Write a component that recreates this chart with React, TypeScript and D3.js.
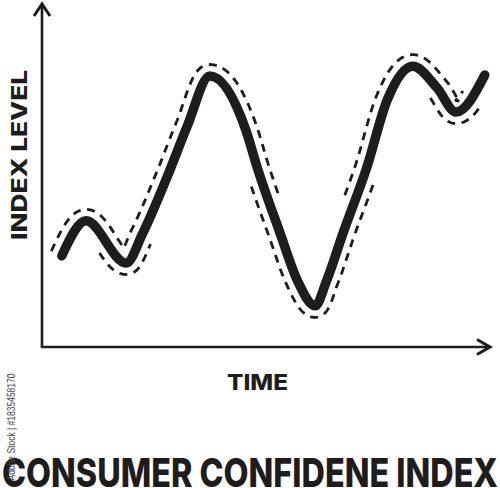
import React from "react";
import * as d3 from "d3";

// ---- data ----
const timeValues = [4.4, 9.8, 18.7, 22.4, 27.8, 32.2, 37.3, 45.3, 47.8, 52.9, 56.7, 60.7, 63.3, 66.9, 72.2, 76.7, 82.4, 87.8, 92.0, 98.4];
const indexValues = [26.8, 37.1, 24.7, 33.5, 50.0, 64.7, 79.7, 63.8, 52.9, 33.5, 19.7, 12.1, 19.7, 33.5, 52.9, 72.6, 82.6, 76.2, 69.1, 80.0];
// time spans where the dashed band is drawn above / below the line
const upperBandSpans: [number, number][] = [[4.4, 16.9], [20.7, 50.2], [69.6, 95.8]];
const lowerBandSpans: [number, number][] = [[14.7, 21.8], [48.9, 71.3], [88.4, 95.6]];
const yAxisLabel = "INDEX LEVEL";
const xAxisLabel = "TIME";
const title = "CONSUMER CONFIDENE INDEX";
const credit = "Adobe Stock | #1835458170";

const W = 500;
const H = 488;
const INK = "#1f1c1d";
const FONT = "Inter, 'DejaVu Sans', sans-serif";

const x = d3.scaleLinear().domain([0, 100]).range([42, 492]);
const y = d3.scaleLinear().domain([0, 100]).range([347, 7]);

type Pt = { x: number; y: number; dx: number; dy: number };

function sampleCurve(data: [number, number][]): Pt[] {
  const pts: Pt[] = [];
  let cur: [number, number] = [0, 0];
  const ctx: any = {
    moveTo(a: number, b: number) { cur = [a, b]; },
    lineTo(a: number, b: number) {
      const n = 10;
      for (let i = 0; i <= n; i++) {
        const t = i / n;
        pts.push({ x: cur[0] + (a - cur[0]) * t, y: cur[1] + (b - cur[1]) * t, dx: a - cur[0], dy: b - cur[1] });
      }
      cur = [a, b];
    },
    bezierCurveTo(x1: number, y1: number, x2: number, y2: number, a: number, b: number) {
      const n = 40;
      const [x0, y0] = cur;
      for (let i = 0; i <= n; i++) {
        const t = i / n;
        const u = 1 - t;
        const px = u * u * u * x0 + 3 * u * u * t * x1 + 3 * u * t * t * x2 + t * t * t * a;
        const py = u * u * u * y0 + 3 * u * u * t * y1 + 3 * u * t * t * y2 + t * t * t * b;
        const dx = 3 * u * u * (x1 - x0) + 6 * u * t * (x2 - x1) + 3 * t * t * (a - x2);
        const dy = 3 * u * u * (y1 - y0) + 6 * u * t * (y2 - y1) + 3 * t * t * (b - y2);
        pts.push({ x: px, y: py, dx, dy });
      }
      cur = [a, b];
    },
    closePath() {},
  };
  d3.line<[number, number]>()
    .x((d) => x(d[0]))
    .y((d) => y(d[1]))
    .curve(d3.curveMonotoneX)
    .context(ctx)(data);
  return pts;
}

export default function App() {
  const data: [number, number][] = timeValues.map((t, i) => [t, indexValues[i]]);
  const mainPath = d3.line<[number, number]>()
    .x((d) => x(d[0]))
    .y((d) => y(d[1]))
    .curve(d3.curveMonotoneX)(data) as string;

  const samples = sampleCurve(data);
  const OFF = 11.5;
  const lin = d3.line<[number, number]>();

  const band = (spans: [number, number][], side: 1 | -1) =>
    spans.map(([a, b]) => {
      const xa = x(a), xb = x(b);
      const pts: [number, number][] = samples
        .filter((p) => p.x >= xa && p.x <= xb)
        .map((p) => {
          const len = Math.hypot(p.dx, p.dy) || 1;
          const nx = (side * p.dy) / len;
          const ny = (side * -p.dx) / len;
          return [p.x + nx * OFF, p.y + ny * OFF];
        });
      return lin(pts) as string;
    });

  const upper = band(upperBandSpans, 1);
  const lower = band(lowerBandSpans, -1);

  const x0 = x(0), y0 = y(0);
  const yTop = 3, xEnd = 491;

  return (
    <svg width={W} height={H} style={{ position: "absolute", left: 0, top: 0, background: "#fff" }}>
      {/* axes */}
      <g stroke={INK} fill="none" strokeWidth={2.6}>
        <line x1={x0} y1={y0} x2={x0} y2={yTop + 1} />
        <line x1={x0 - 1.3} y1={y0} x2={xEnd - 1} y2={y0} />
        <polyline points={`${x0 - 8},${yTop + 13} ${x0},${yTop + 1} ${x0 + 8},${yTop + 13}`} strokeWidth={3} strokeLinejoin="miter" />
        <polyline points={`${xEnd - 14},${y0 - 7.5} ${xEnd - 1},${y0} ${xEnd - 14},${y0 + 7.5}`} strokeWidth={3} strokeLinejoin="miter" />
      </g>

      {/* dashed bands */}
      <g stroke={INK} fill="none" strokeWidth={2.8} strokeDasharray="8 6.5">
        {upper.map((d, i) => <path key={"u" + i} d={d} />)}
        {lower.map((d, i) => <path key={"l" + i} d={d} />)}
      </g>

      {/* main line */}
      <path d={mainPath} fill="none" stroke={INK} strokeWidth={9.5} strokeLinecap="round" strokeLinejoin="round" />

      {/* labels */}
      <text transform="translate(26.7,155) rotate(-90)" textAnchor="middle" fontFamily={FONT} fontWeight={800}
        fontSize={21.6} fill={INK} textLength={170} lengthAdjust="spacingAndGlyphs">{yAxisLabel}</text>
      <text x={257.5} y={389.5} textAnchor="middle" fontFamily={FONT} fontWeight={800}
        fontSize={21} fill={INK} textLength={61} lengthAdjust="spacingAndGlyphs">{xAxisLabel}</text>
      <text x={250} y={486.5} textAnchor="middle" fontFamily={FONT} fontWeight={800}
        fontSize={40} fill={INK} textLength={496} lengthAdjust="spacingAndGlyphs">{title}</text>
      <text transform="translate(15,427) rotate(-90)" textAnchor="middle" fontFamily="'Liberation Sans', Arial, sans-serif"
        fontSize={10} fill="#444" textLength={107} lengthAdjust="spacingAndGlyphs">{credit}</text>
    </svg>
  );
}
